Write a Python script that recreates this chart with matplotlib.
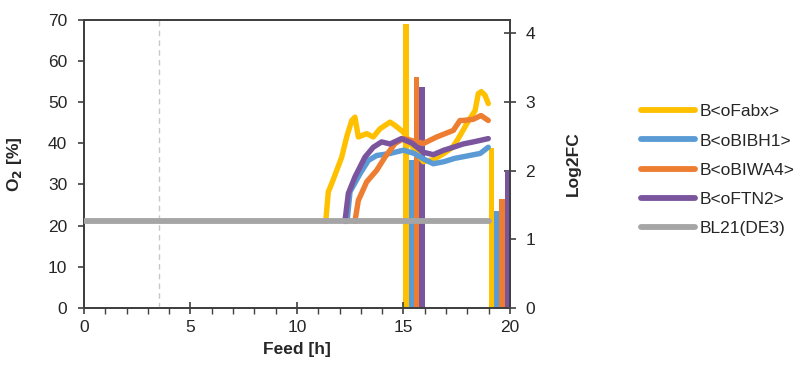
import matplotlib
matplotlib.use("Agg")
import matplotlib.pyplot as plt
import numpy as np

plt.rcParams['font.family'] = ['Liberation Sans', 'DejaVu Sans']

# ---- data ----
series_names = ["B<oFabx>", "B<oBIBH1>", "B<oBIWA4>", "B<oFTN2>", "BL21(DE3)"]
series_colors = ["#FFC000", "#5B9BD5", "#ED7D31", "#7A559E", "#A5A5A5"]

fabx_t = [11.35, 11.47, 11.63, 12.1, 12.33, 12.57, 12.72, 12.88, 13.27, 13.58, 13.9, 14.37, 14.6, 14.99,
          15.5, 15.93, 16.4, 16.9, 17.3, 17.57, 17.97, 18.36, 18.51, 18.65, 18.83, 18.98]
fabx_o2 = [21.0, 28.2, 30.2, 36.6, 41.5, 45.5, 46.3, 41.5, 42.3, 41.5, 43.5, 45.1, 44.3, 42.7,
           38.5, 35.5, 36.0, 37.5, 39.0, 41.1, 44.7, 47.9, 52.0, 52.5, 51.6, 49.6]

bibh1_t = [12.35, 12.49, 12.96, 13.35, 13.74, 14.37, 15.0, 15.5, 15.93, 16.4, 16.9, 17.4, 17.9, 18.6, 18.98]
bibh1_o2 = [21.0, 28.2, 32.6, 35.8, 37.0, 37.5, 38.3, 37.5, 36.2, 35.0, 35.5, 36.3, 36.8, 37.5, 39.0]

biwa4_t = [12.72, 12.88, 13.27, 13.74, 14.13, 14.6, 15.0, 15.5, 15.93, 16.56, 17.34, 17.65, 17.8, 18.28, 18.64, 18.98]
biwa4_o2 = [21.0, 26.1, 30.6, 33.4, 36.6, 39.9, 41.1, 40.5, 39.9, 41.5, 43.1, 45.5, 45.5, 45.8, 46.7, 45.5]

ftn2_t = [12.25, 12.41, 12.72, 13.19, 13.58, 13.97, 14.37, 14.9, 15.4, 15.93, 16.4, 16.9, 17.34, 17.8, 18.28, 18.98]
ftn2_o2 = [21.0, 27.8, 31.8, 36.6, 39.0, 40.3, 39.8, 41.1, 40.0, 37.8, 37.2, 38.3, 39.0, 39.8, 40.3, 41.1]

bl21_t = [0.0, 19.0]
bl21_o2 = [21.0, 21.0]

marker_time = 3.5

bar_times = [15.5, 19.5]
log2fc = {
    "B<oFabx>": [4.13, 2.33],
    "B<oBIBH1>": [2.15, 1.41],
    "B<oBIWA4>": [3.37, 1.59],
    "B<oFTN2>": [3.22, 2.0],
}

x_ticks = [0, 5, 10, 15, 20]
y_ticks = [0, 10, 20, 30, 40, 50, 60, 70]
y2_ticks = [0, 1, 2, 3, 4]

# ---- figure ----
W, H = 803, 366
fig = plt.figure(figsize=(W / 100, H / 100), dpi=100)
ax = fig.add_axes([84 / W, 58 / H, (510 - 84) / W, (308 - 19.5) / H])
ax2 = ax.twinx()

spine_c = "#404040"
txt_c = "#262626"
fs = 12.5

ax.axvline(marker_time, color="#C8C8C8", lw=1.0, ls=(0, (4, 3)), zorder=1)

lines = []
for name, t, v, c in zip(series_names,
                         [fabx_t, bibh1_t, biwa4_t, ftn2_t, bl21_t],
                         [fabx_o2, bibh1_o2, biwa4_o2, ftn2_o2, bl21_o2],
                         series_colors):
    l, = ax.plot(t, v, color=c, lw=3.9 if name != "BL21(DE3)" else 4.2,
                 solid_capstyle='round', solid_joinstyle='round', label=name, zorder=3)
    lines.append(l)

nb = len(log2fc)
bw = 1.0 / nb
for i, (name, c) in enumerate(zip(series_names[:4], series_colors[:4])):
    pos = [bt - 0.5 + bw * (i + 0.5) for bt in bar_times]
    ax2.bar(pos, log2fc[name], width=bw, color=c, zorder=2)

ax.set_xlim(0, 20)
ax.set_ylim(0, 70)
ax2.set_ylim(0, 4.2)

ax.set_xticks(x_ticks)
ax.set_xticks(np.arange(0, 21, 1), minor=True)
ax.set_yticks(y_ticks)
ax2.set_yticks(y2_ticks)

for a in (ax, ax2):
    for s in a.spines.values():
        s.set_color(spine_c)
        s.set_linewidth(1.3)

ax.tick_params(axis='x', which='major', direction='inout', length=8, width=1.2, color=spine_c,
               labelsize=fs, labelcolor=txt_c, pad=5)
ax.tick_params(axis='x', which='minor', direction='out', length=4, width=1.0, color=spine_c)
ax.tick_params(axis='y', which='major', direction='out', length=4, width=1.2, color=spine_c,
               labelsize=fs, labelcolor=txt_c, pad=8)
ax2.tick_params(axis='y', which='major', direction='inout', length=8, width=1.2, color=spine_c,
                labelsize=fs, labelcolor=txt_c, pad=7)

ax.set_xlabel("Feed [h]", fontsize=fs, fontweight='bold', color=txt_c)
ax.xaxis.set_label_coords(0.5, (308 - 342) / 288.5)
ax.set_ylabel("O$_\\mathbf{2}$ [%]", fontsize=fs, fontweight='bold', color=txt_c)
ax.yaxis.set_label_coords((24 - 84) / 426, 0.5)
ax2.set_ylabel("Log2FC", fontsize=fs, fontweight='bold', color=txt_c)
ax2.yaxis.set_label_coords((566 - 84) / 426, 0.5)

ax.set_zorder(ax2.get_zorder() + 1)
ax.patch.set_visible(False)

leg = fig.legend(handles=lines, labels=series_names, loc='center left',
                 bbox_to_anchor=(641 / W, 1 - 170 / H), frameon=False,
                 fontsize=fs, handlelength=3.1, handletextpad=0.25,
                 labelspacing=0.8, borderpad=0, borderaxespad=0)
for h in leg.legend_handles:
    h.set_linewidth(4.2)
    h.set_solid_capstyle('round')
for t in leg.get_texts():
    t.set_color(txt_c)

fig.savefig("out.png", dpi=100)
